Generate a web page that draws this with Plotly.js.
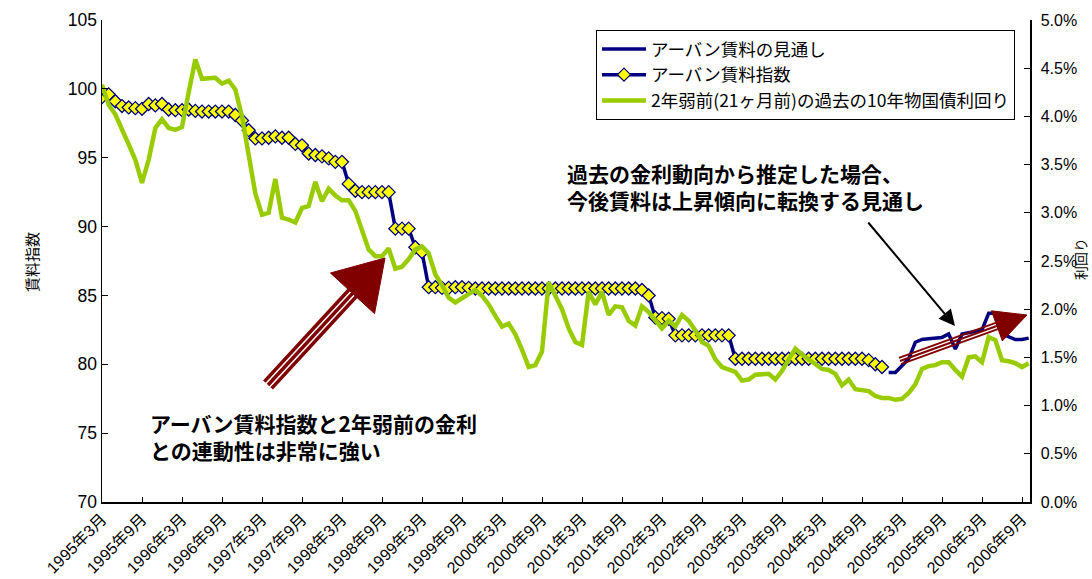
<!DOCTYPE html>
<html>
<head>
<meta charset="utf-8">
<script src="https://cdn.plot.ly/plotly-3.0.1.min.js"></script>
<style>
  html, body { margin: 0; padding: 0; background: #fff; }
  #chart { width: 1092px; height: 579px; }
</style>
</head>
<body>
<div id="chart"></div>
<script>
// Monthly categories, 1995年3月 .. 2006年10月
const months = [];
for (let i = 0; i < 140; i++) {
  const y = 1995 + Math.floor((2 + i) / 12);
  const m = ((2 + i) % 12) + 1;
  months.push(y + '年' + m + '月');
}

// Tick labels every six months
const tickLabels = [
  '1995年3月', '1995年9月', '1996年3月', '1996年9月', '1997年3月', '1997年9月',
  '1998年3月', '1998年9月', '1999年3月', '1999年9月', '2000年3月', '2000年9月',
  '2001年3月', '2001年9月', '2002年3月', '2002年9月', '2003年3月', '2003年9月',
  '2004年3月', '2004年9月', '2005年3月', '2005年9月', '2006年3月', '2006年9月'
];

// アーバン賃料指数 (1995年3月 .. 2004年12月)
const rentIndex = [
  99.4, 99.6, 99.1, 98.75, 98.65, 98.6, 98.55, 98.9, 98.8, 98.9,
  98.5, 98.45, 98.45, 98.5, 98.4, 98.35, 98.35, 98.35, 98.35, 98.35,
  98.1, 97.7, 97.0, 96.4, 96.4, 96.45, 96.55, 96.45, 96.45, 96.0,
  95.9, 95.3, 95.2, 95.1, 94.95, 94.7, 94.7, 93.1, 92.6, 92.5,
  92.5, 92.5, 92.5, 92.5, 89.85, 89.85, 89.85, 88.5, 88.15, 85.6,
  85.6, 85.55, 85.55, 85.6, 85.6, 85.55, 85.5, 85.5, 85.5, 85.5,
  85.5, 85.5, 85.5, 85.5, 85.5, 85.5, 85.5, 85.5, 85.5, 85.5,
  85.5, 85.5, 85.5, 85.5, 85.5, 85.5, 85.5, 85.5, 85.5, 85.5,
  85.5, 85.4, 85.0, 83.4, 83.35, 83.3, 82.1, 82.1, 82.1, 82.1,
  82.1, 82.1, 82.1, 82.1, 82.1, 80.4, 80.4, 80.4, 80.4, 80.4,
  80.4, 80.4, 80.4, 80.4, 80.4, 80.4, 80.4, 80.4, 80.4, 80.4,
  80.4, 80.4, 80.4, 80.4, 80.4, 80.3, 80.0, 79.8
];

// アーバン賃料の見通し (2005年1月 .. 2006年10月)
const rentOutlook = [
  79.4, 79.4, 79.9, 80.4, 81.6, 81.8, 81.85, 81.9, 81.95, 82.2,
  81.1, 82.2, 82.3, 82.4, 82.5, 83.7, 83.7, 82.2, 82.0, 81.8,
  81.8, 81.9
];

// 2年弱前(21ヶ月前)の過去の10年物国債利回り (%)
const bondYield = [
  4.33, 4.12, 4.02, 3.85, 3.71, 3.55, 3.31, 3.55, 3.88, 3.97,
  3.88, 3.86, 3.89, 4.25, 4.59, 4.39, 4.40, 4.40, 4.34, 4.37,
  4.28, 4.00, 3.60, 3.20, 2.98, 3.00, 3.35, 2.95, 2.93, 2.90,
  3.05, 3.07, 3.32, 3.12, 3.25, 3.18, 3.13, 3.13, 3.02, 2.82,
  2.62, 2.55, 2.55, 2.63, 2.42, 2.44, 2.52, 2.62, 2.65, 2.58,
  2.36, 2.25, 2.12, 2.07, 2.11, 2.15, 2.20, 2.14, 2.05, 1.93,
  1.82, 1.85, 1.74, 1.58, 1.40, 1.42, 1.56, 2.28, 2.15, 2.00,
  1.80, 1.66, 1.63, 2.18, 2.05, 2.18, 1.94, 2.03, 2.02, 1.88,
  1.83, 2.03, 1.97, 1.88, 1.80, 1.88, 1.82, 1.94, 1.88, 1.78,
  1.66, 1.62, 1.48, 1.40, 1.38, 1.35, 1.26, 1.27, 1.32, 1.32,
  1.33, 1.27, 1.36, 1.48, 1.59, 1.53, 1.48, 1.43, 1.38, 1.37,
  1.33, 1.21, 1.27, 1.17, 1.16, 1.15, 1.10, 1.08, 1.08, 1.06,
  1.07, 1.13, 1.22, 1.38, 1.41, 1.42, 1.45, 1.45, 1.37, 1.30,
  1.50, 1.51, 1.45, 1.71, 1.68, 1.47, 1.46, 1.44, 1.40, 1.44
];

const seriesNames = [
  'アーバン賃料の見通し',
  'アーバン賃料指数',
  '2年弱前(21ヶ月前)の過去の10年物国債利回り'
];

const NAVY = '#000080';
const GREEN = '#99CC00';
const DARKRED = '#800000';
const LATIN = 'Liberation Sans, Arial, Noto Sans CJK JP, sans-serif';
const JP = 'Noto Sans CJK JP, sans-serif';

// plot area in pixels
const M = { l: 102, r: 62, t: 20, b: 77 };
const FW = 1092, FH = 579;
const PW = FW - M.l - M.r, PH = FH - M.t - M.b;
const px = x => (x - M.l) / PW;
const py = y => (FH - M.b - y) / PH;

// striped block arrow: three parallel bars and a solid head
function stripedArrow(tail, tip, headLen, headHalf, offsets, barWidth) {
  const dx = tip[0] - tail[0], dy = tip[1] - tail[1];
  const len = Math.hypot(dx, dy);
  const ux = dx / len, uy = dy / len;
  const nx = -uy, ny = ux;
  const bx = tip[0] - headLen * ux, by = tip[1] - headLen * uy;
  const out = [];
  offsets.forEach(o => {
    out.push({
      type: 'line', xref: 'paper', yref: 'paper', layer: 'above',
      x0: px(tail[0] + o * nx), y0: py(tail[1] + o * ny),
      x1: px(bx + 2 * ux + o * nx), y1: py(by + 2 * uy + o * ny),
      line: { color: DARKRED, width: barWidth }
    });
  });
  const c1 = [bx + headHalf * nx, by + headHalf * ny];
  const c2 = [bx - headHalf * nx, by - headHalf * ny];
  out.push({
    type: 'path', xref: 'paper', yref: 'paper', layer: 'above',
    path: 'M' + px(c1[0]) + ',' + py(c1[1]) + ' L' + px(tip[0]) + ',' + py(tip[1]) +
          ' L' + px(c2[0]) + ',' + py(c2[1]) + ' Z',
    fillcolor: DARKRED, line: { color: DARKRED, width: 1 }
  });
  return out;
}

const traces = [
  {
    name: seriesNames[0], x: months.slice(rentIndex.length), y: rentOutlook,
    type: 'scatter', mode: 'lines', line: { color: NAVY, width: 3.5 }
  },
  {
    name: seriesNames[1], x: months.slice(0, rentIndex.length), y: rentIndex,
    type: 'scatter', mode: 'lines+markers', line: { color: NAVY, width: 3.5 },
    marker: { symbol: 'diamond', size: 10, color: '#FFFF00', line: { color: NAVY, width: 1.3 } }
  },
  {
    name: seriesNames[2], x: months, y: bondYield, yaxis: 'y2',
    type: 'scatter', mode: 'lines', line: { color: GREEN, width: 4.5 }
  }
];

const shapes = []
  .concat(stripedArrow([268, 385], [385, 258], 48, 30, [-5, 0, 5], 3.5))
  .concat(stripedArrow([900, 361], [1027, 315], 32, 16, [-3.3, 0, 3.3], 2));

const layout = {
  width: FW, height: FH,
  margin: M,
  paper_bgcolor: '#fff', plot_bgcolor: '#fff',
  showlegend: true,
  legend: {
    x: px(596), y: py(30), xanchor: 'left', yanchor: 'top',
    bgcolor: '#fff', bordercolor: '#000', borderwidth: 1,
    font: { family: JP, size: 17.5, color: '#000' },
    itemwidth: 44,
    tracegroupgap: 0
  },
  xaxis: {
    type: 'category', categoryorder: 'array', categoryarray: months,
    range: [0, 139.2],
    tickmode: 'array', tickvals: tickLabels, ticktext: tickLabels,
    tickangle: -45, ticks: 'inside', ticklen: 5, tickcolor: '#000',
    showline: true, linecolor: '#000', linewidth: 1.5,
    showgrid: false, zeroline: false,
    tickfont: { family: LATIN, size: 16, color: '#000' }
  },
  yaxis: {
    range: [70, 105], dtick: 5, tick0: 70,
    ticks: 'inside', ticklen: 6, tickcolor: '#000',
    showline: true, linecolor: '#000', linewidth: 1.5,
    showgrid: false, zeroline: false,
    tickfont: { family: LATIN, size: 17.5, color: '#000' }
  },
  yaxis2: {
    overlaying: 'y', side: 'right',
    range: [0, 5], dtick: 0.5, tick0: 0,
    tickformat: '.1f', ticksuffix: '%',
    ticks: 'inside', ticklen: 6, tickcolor: '#000',
    showline: true, linecolor: '#000', linewidth: 1.5,
    showgrid: false, zeroline: false,
    ticklabelstandoff: 6,
    tickfont: { family: LATIN, size: 16, color: '#000' }
  },
  shapes: shapes,
  annotations: [
    {
      xref: 'paper', yref: 'paper', x: px(31), y: py(262),
      xanchor: 'center', yanchor: 'middle',
      text: '賃料指数', textangle: -90, showarrow: false,
      font: { family: JP, size: 15, color: '#000' }
    },
    {
      xref: 'paper', yref: 'paper', x: px(1080), y: py(259),
      xanchor: 'center', yanchor: 'middle', borderpad: 0,
      text: '利回り', textangle: -90, showarrow: false,
      font: { family: JP, size: 14, color: '#000' }
    },
    {
      xref: 'paper', yref: 'paper', x: px(565), y: py(186),
      xanchor: 'left', yanchor: 'middle', align: 'left', showarrow: false,
      text: '過去の金利動向から推定した場合、<br>今後賃料は上昇傾向に転換する見通し',
      font: { family: JP, size: 21, weight: 'bold', color: '#000' }
    },
    {
      xref: 'paper', yref: 'paper', x: px(148), y: py(436),
      xanchor: 'left', yanchor: 'middle', align: 'left', showarrow: false,
      text: 'アーバン賃料指数と2年弱前の金利<br>との連動性は非常に強い',
      font: { family: JP, size: 21, weight: 'bold', color: '#000' }
    },
    {
      xref: 'paper', yref: 'paper', x: px(955), y: py(326),
      ax: -88, ay: -105, text: '', showarrow: true,
      arrowhead: 2, arrowsize: 1.6, arrowwidth: 2, arrowcolor: '#000', standoff: 0
    }
  ]
};

Plotly.newPlot('chart', traces, layout, { staticPlot: true, displayModeBar: false });
</script>
</body>
</html>
